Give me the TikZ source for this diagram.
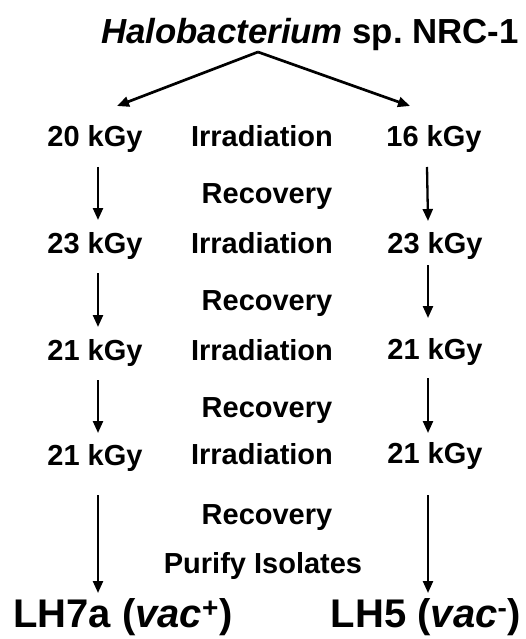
\documentclass[tikz,border=0pt]{standalone}
\usepackage{fontspec}
\setmainfont{Liberation Sans}
\usetikzlibrary{arrows.meta,calc}
\frenchspacing
\begin{document}
\begin{tikzpicture}[x=1pt,y=-1pt,
  lab/.style={font=\bfseries\fontsize{29}{29}\selectfont, inner sep=0pt, anchor=base},
  big/.style={font=\bfseries\fontsize{34.8}{35}\selectfont, inner sep=0pt, anchor=base},
  fin/.style={font=\bfseries\fontsize{40}{40}\selectfont, inner sep=0pt},
  arr/.style={line width=2.3pt, -{Triangle[length=12pt,width=10pt]}},
  darr/.style={line width=2.7pt, -{Triangle[length=12pt,width=10pt]}},
]
\useasboundingbox (0,0) rectangle (526,639);
% title
\node[big] (title) at (310,44) {\textit{Halobacterium} sp.\ NRC-1};
\coordinate (apex) at (258,52);
\coordinate (lt) at (117,106);
\coordinate (rt) at (410,106);
\draw[darr] (apex) -- (lt);
\draw[darr] (apex) -- (rt);
% rows
\node[lab] (l1) at (95,147) {20 kGy};
\node[lab] (m1) at (262,147) {Irradiation};
\node[lab] (r1) at (434,147) {16 kGy};
\node[lab] (rec1) at (267,203) {Recovery};
\node[lab] (l2) at (95,253) {23 kGy};
\node[lab] (m2) at (262,253) {Irradiation};
\node[lab] (r2) at (435,253) {23 kGy};
\node[lab] (rec2) at (267,310) {Recovery};
\node[lab] (l3) at (95,360) {21 kGy};
\node[lab] (m3) at (262,360) {Irradiation};
\node[lab] (r3) at (435,359) {21 kGy};
\node[lab] (rec3) at (267,417) {Recovery};
\node[lab] (l4) at (95,465) {21 kGy};
\node[lab] (m4) at (262,464) {Irradiation};
\node[lab] (r4) at (435,463) {21 kGy};
\node[lab] (rec4) at (267,524) {Recovery};
\node[lab] (pur) at (263,573) {Purify Isolates};
\node[fin, anchor=base west] (lh7) at (13,627) {LH7a (\textit{vac}\textsuperscript{+})};
\node[fin, anchor=base east] (lh5) at (521,627) {LH5 (\textit{vac}\textsuperscript{-})};
% vertical arrows, left column
\draw[arr] ($(l1.base)+(3,20)$) -- ($(l2.base)+(3,-33)$);
\draw[arr] ($(l2.base)+(3,20)$) -- ($(l3.base)+(3,-33)$);
\draw[arr] ($(l3.base)+(3,20)$) -- ($(l4.base)+(3,-32)$);
\draw[arr] ($(l4.base)+(3,30)$) -- ($(lh7.base -| l4.base)+(3,-34)$);
% vertical arrows, right column
\draw[arr] ($(r1.base)+(-7,20)$) -- ($(r2.base)+(-7,-32)$);
\draw[arr] ($(r2.base)+(-7,12)$) -- ($(r3.base)+(-7,-41)$);
\draw[arr] ($(r3.base)+(-7,19)$) -- ($(r4.base)+(-7,-30)$);
\draw[arr] ($(r4.base)+(-7,32)$) -- ($(lh5.base -| r4.base)+(-7,-34)$);
\end{tikzpicture}
\end{document}
